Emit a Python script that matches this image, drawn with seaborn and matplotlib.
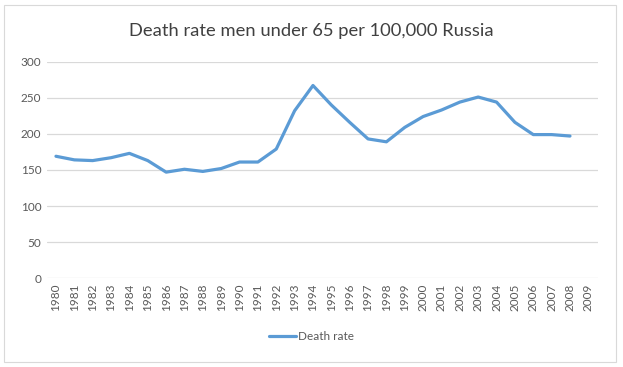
import numpy as np
import pandas as pd
import seaborn as sns
import matplotlib.pyplot as plt
from matplotlib.patches import Rectangle

# Werte
years = list(range(1980, 2010))
death_rate = [169, 164, 163, 167, 173, 163, 147, 151, 148, 152, 161, 161, 179, 232, 267,
              240, 216, 193, 189, 209, 224, 233, 244, 251, 244, 216, 199, 199, 197, np.nan]

df = pd.DataFrame({"year": years, "Death rate": death_rate})

sns.set_style("white")
plt.rcParams["font.family"] = ["Lato", "DejaVu Sans"]

fig = plt.figure(figsize=(6.23, 3.67), dpi=100)
ax = fig.add_axes([0.0751, 0.2417, 0.884, 0.5903])

sns.lineplot(data=df, x="year", y="Death rate", ax=ax, color="#5B9BD5",
             linewidth=2.3, label="Death rate")

ax.set_xlim(1979.5, 2009.5)
ax.set_ylim(0, 300)
ax.set_yticks(range(0, 301, 50))
ax.set_xticks(years)
ax.set_xticklabels([str(y) for y in years], rotation=90)
ax.tick_params(axis="both", labelsize=8.5, colors="#595959", length=0, pad=4)
ax.yaxis.grid(True, color="#D9D9D9", linewidth=0.9)
ax.set_axisbelow(True)
for s in ax.spines.values():
    s.set_visible(False)
ax.set_xlabel("")
ax.set_ylabel("")

fig.text(0.5, 0.915, "Death rate men under 65 per 100,000 Russia", ha="center", va="center",
         fontsize=13.2, color="#404040")

ax.legend(loc="center", bbox_to_anchor=(0.5, 1 - 337 / 367), bbox_transform=fig.transFigure,
          frameon=False, fontsize=8.5, handlelength=2.3, handletextpad=0.2, labelcolor="#595959")

fig.patches.append(Rectangle((4 / 623, 5 / 367), 612 / 623, 357 / 367, transform=fig.transFigure,
                             fill=False, edgecolor="#D9D9D9", linewidth=0.8))

fig.savefig("out.png", dpi=100)
